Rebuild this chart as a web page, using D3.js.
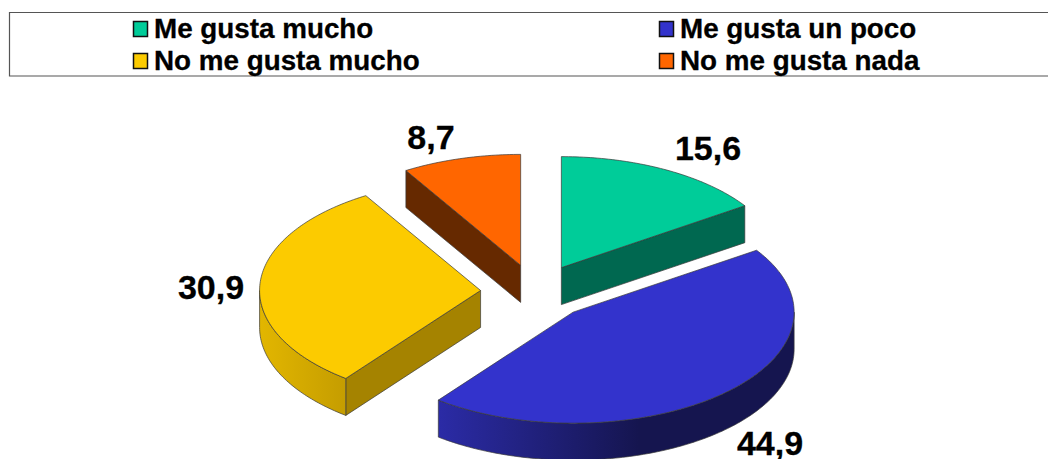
<!DOCTYPE html>
<html lang="en">
<head>
  <meta charset="UTF-8">
  <title>Me gusta</title>
  <script src="https://d3js.org/d3.v7.min.js"></script>
  <style>
    html, body { margin: 0; padding: 0; background: #fff; overflow: hidden; }
    svg { display: block; }
    text { font-family: "Liberation Sans", Arial, sans-serif; font-weight: bold; fill: #000; stroke: #000; stroke-width: 0.3px; }
  </style>
</head>
<body>
  <svg width="1048" height="459"></svg>

  <script>
    // Data
    const categories = ["Me gusta mucho", "Me gusta un poco", "No me gusta mucho", "No me gusta nada"];
    const values = [15.6, 44.9, 30.9, 8.7];
    const valueLabels = ["15,6", "44,9", "30,9", "8,7"];

    // Colours
    const topColors = ["#00cc99", "#3333cc", "#fccb00", "#ff6600"];
    const faceColors = ["#006850", "#16164f", "#a58300", "#662900"];
    const rimStops = [null, ["#2b2ba6", "#15154f"], ["#e2b600", "#c59d00"], null];

    // Layout of the pie
    const cx = 535.5, cy = 292;
    const rx = 221, ry = 111, depth = 37, explode = 55;
    const labelSpots = [[708, 160], [770, 455], [211, 299], [431, 149]];

    const svg = d3.select("svg");
    const defs = svg.append("defs");

    // unit circle -> screen, squashed for the tilt
    const sx = d3.scaleLinear().domain([-1, 1]).range([-rx, rx]);
    const sy = d3.scaleLinear().domain([-1, 1]).range([-ry, ry]);
    const onRim = (a, o, dy = 0) => [o[0] + sx(Math.sin(a)), o[1] + sy(-Math.cos(a)) + dy];

    const slices = d3.pie().sort(null).value(d => d)(values);
    const line = d3.line();

    function rimPoints(a0, a1, o, dy) {
      const n = Math.max(2, Math.ceil((a1 - a0) * 60));
      return d3.range(n + 1).map(i => onRim(a0 + (a1 - a0) * i / n, o, dy));
    }

    const strokeStyle = g => g.attr("stroke", "#3a3a3a").attr("stroke-width", 0.7).attr("stroke-linejoin", "round");

    // Draw back to front
    [0, 3, 2, 1].forEach(i => {
      const s = slices[i];
      const mid = (s.startAngle + s.endAngle) / 2;
      const o = [cx + sx(Math.sin(mid)) * explode / rx, cy + sy(-Math.cos(mid)) * explode / rx];
      const g = svg.append("g").call(strokeStyle);

      // cut faces that look toward the viewer
      [s.startAngle, s.endAngle].forEach((a, k) => {
        const seen = k === 0 ? Math.sin(a) < -1e-6 : Math.sin(a) > 1e-6;
        if (!seen) return;
        const p = onRim(a, o);
        g.append("path")
          .attr("d", line([o, p, [p[0], p[1] + depth], [o[0], o[1] + depth]]) + "Z")
          .attr("fill", faceColors[i]);
      });

      // outer wall, only the front half of the ellipse shows
      const a0 = Math.max(s.startAngle, Math.PI / 2);
      const a1 = Math.min(s.endAngle, Math.PI * 3 / 2);
      if (a1 > a0) {
        const upper = rimPoints(a0, a1, o, 0);
        const lower = rimPoints(a0, a1, o, depth).reverse();
        let fill = faceColors[i];
        if (rimStops[i]) {
          const id = "rim" + i;
          const xs = d3.extent(upper, d => d[0]);
          const grad = defs.append("linearGradient").attr("id", id)
            .attr("gradientUnits", "userSpaceOnUse")
            .attr("x1", xs[0]).attr("x2", i === 1 ? o[0] + sx(0.3) : xs[1])
            .attr("y1", 0).attr("y2", 0);
          grad.selectAll("stop").data(rimStops[i]).enter().append("stop")
            .attr("offset", (d, k) => k)
            .attr("stop-color", d => d);
          fill = `url(#${id})`;
        }
        g.append("path").attr("d", line(upper.concat(lower)) + "Z").attr("fill", fill);
      }

      // top
      g.append("path")
        .attr("d", line([o].concat(rimPoints(s.startAngle, s.endAngle, o, 0))) + "Z")
        .attr("fill", topColors[i]);
    });

    // Value labels
    svg.selectAll(".value")
      .data(valueLabels)
      .enter().append("text")
      .attr("class", "value")
      .attr("x", (d, i) => labelSpots[i][0])
      .attr("y", (d, i) => labelSpots[i][1])
      .attr("text-anchor", "middle")
      .style("font-size", "34px")
      .text(d => d);

    // Legend
    const legendX = d3.scaleOrdinal().domain([0, 1]).range([133, 659]);
    const legendY = d3.scaleOrdinal().domain([0, 1]).range([21, 53]);

    svg.append("path")
      .attr("d", "M1048,12.5H9.5V76H1048")
      .attr("fill", "none")
      .attr("stroke", "#555")
      .attr("stroke-width", 1.2);

    const legend = svg.selectAll(".legend")
      .data(categories)
      .enter().append("g")
      .attr("class", "legend")
      .attr("transform", (d, i) => `translate(${legendX(i % 2)},${legendY(Math.floor(i / 2))})`);

    legend.append("rect")
      .attr("x", 0.5).attr("y", 0.5)
      .attr("width", 14).attr("height", 15)
      .attr("fill", (d, i) => topColors[i])
      .attr("stroke", "#111")
      .attr("stroke-width", 1.5);

    legend.append("text")
      .attr("x", 21)
      .attr("y", 17)
      .style("font-size", "27.8px")
      .text(d => d);
  </script>
</body>
</html>
